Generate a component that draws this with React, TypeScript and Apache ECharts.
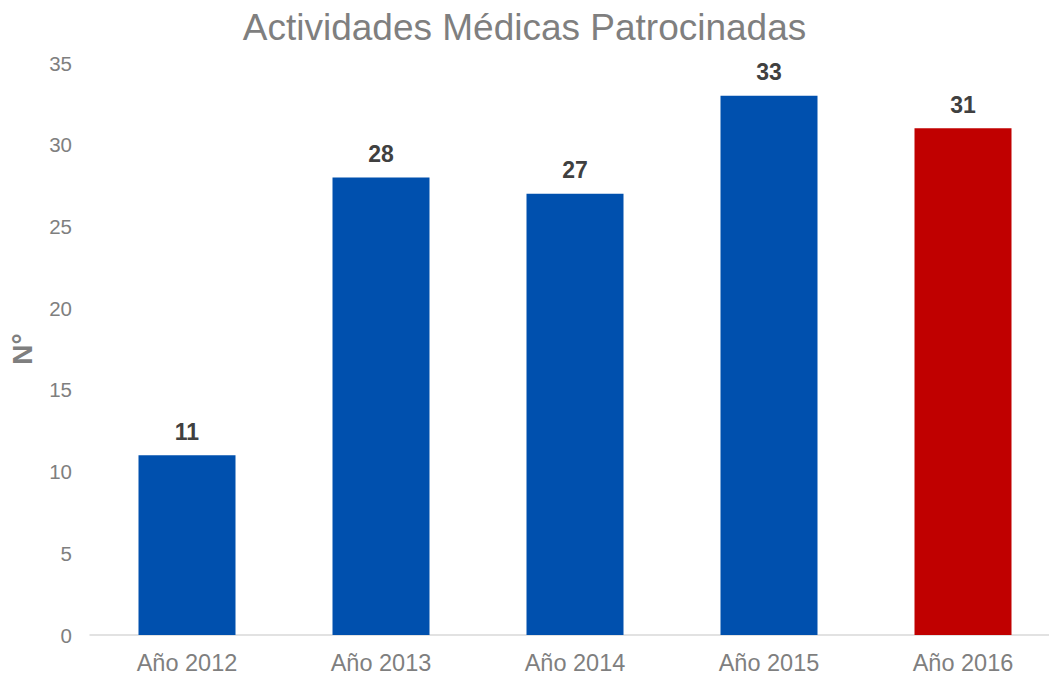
import React, { useEffect, useRef } from "react";
import * as echarts from "echarts";

const categories = ["Año 2012", "Año 2013", "Año 2014", "Año 2015", "Año 2016"];
const values = [11, 28, 27, 33, 31];
const barColors = ["#0050AE", "#0050AE", "#0050AE", "#0050AE", "#C00000"];
const yTicks = { min: 0, max: 35, interval: 5 };

export default function App() {
  const ref = useRef<HTMLDivElement>(null);
  useEffect(() => {
    if (!ref.current) return;
    const chart = echarts.init(ref.current, null, { renderer: "svg" });
    chart.setOption({
      animation: false,
      backgroundColor: "#ffffff",
      title: {
        text: "Actividades Médicas Patrocinadas",
        left: "center",
        top: 4,
        textStyle: { fontFamily: "Liberation Sans, Arial", fontSize: 37, fontWeight: "normal", color: "#7f7f7f" },
      },
      grid: { left: 90, right: -11, top: 63, bottom: 45, outerBoundsMode: "none", containLabel: false },
      xAxis: {
        type: "category",
        data: categories,
        axisLine: { lineStyle: { color: "#d9d9d9", width: 1.5 } },
        axisTick: { show: false },
        axisLabel: { fontFamily: "Liberation Sans, Arial", fontSize: 23.5, color: "#7f7f7f", margin: 16 },
      },
      yAxis: {
        type: "value",
        min: yTicks.min,
        max: yTicks.max,
        interval: yTicks.interval,
        name: "N°",
        nameLocation: "middle",
        nameGap: 54,
        nameRotate: 90,
        nameTextStyle: { fontFamily: "Liberation Sans, Arial", fontSize: 28, fontWeight: "bold", color: "#7f7f7f" },
        axisLine: { show: false },
        axisTick: { show: false },
        splitLine: { show: false },
        axisLabel: { fontFamily: "Liberation Sans, Arial", fontSize: 20.5, color: "#7f7f7f", margin: 18 },
      },
      series: [
        {
          type: "bar",
          barWidth: "50%",
          data: values.map((v, i) => ({ value: v, itemStyle: { color: barColors[i] } })),
          label: {
            show: true,
            position: "top",
            distance: 12,
            fontFamily: "Liberation Sans, Arial",
            fontSize: 23,
            fontWeight: "bold",
            color: "#404040",
          },
        },
      ],
    });
    return () => chart.dispose();
  }, []);
  return <div ref={ref} style={{ position: "fixed", left: 0, top: 0, width: 1049, height: 680 }} />;
}
